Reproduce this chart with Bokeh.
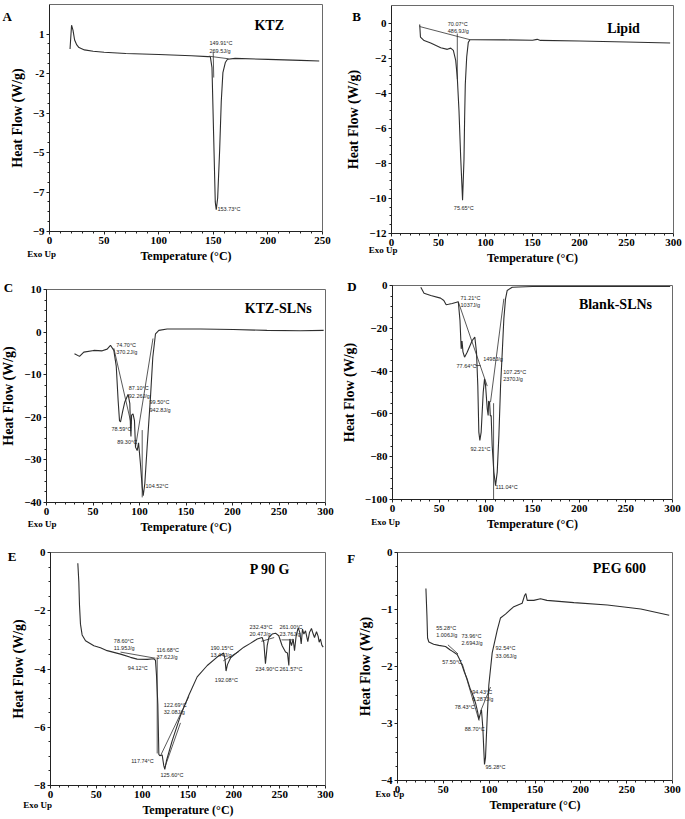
import numpy as np
from bokeh.plotting import figure
from bokeh.models import Label, FixedTicker, Range1d, LinearAxis
from bokeh.layouts import column, row
from bokeh.embed import file_html
from bokeh.resources import INLINE

# ---------------- data ----------------
# A  KTZ
ktz_t = [18.8, 20.2, 21.5, 23, 25, 27, 32, 40, 50, 70, 100, 130, 145, 147.3, 148.8, 150.3,
         151.8, 152.7, 154, 155.8, 157.3, 158.8, 161, 163, 170, 200, 230, 247]
ktz_hf = [0.25, 1.45, 1.2, 0.7, 0.45, 0.32, 0.2, 0.13, 0.08, 0.02, -0.03, -0.1, -0.14, -0.15, -0.7, -4.1,
          -7.5, -7.9, -7.3, -4.9, -2.4, -0.95, -0.44, -0.27, -0.23, -0.28, -0.33, -0.36]
ktz_seg_t = [[146, 164], [149.9, 150.4]]
ktz_seg_hf = [[-0.12, -0.25], [0.1, -1.2]]
ktz_notes = ["149.91°C\n269.5J/g", "153.73°C"]
ktz_note_t = [146.5, 153.8]
ktz_note_hf = [0.68, -7.73]

# B  Lipid
lip_t = [30, 30.8, 34.7, 41.7, 52.4, 59.4, 63, 65.8, 68.3, 70, 71.8, 73.6, 75.6, 77.1, 77.8, 78.5,
         80, 81.7, 83.5, 87.7, 120, 150, 155, 158.5, 200, 250, 296.4]
lip_hf = [-0.08, -0.8, -1.0, -1.14, -1.41, -1.5, -1.43, -1.56, -2.13, -3.1, -5.0, -7.65, -10.1, -7.8, -5.4, -3.5,
          -1.94, -1.1, -0.95, -0.95, -0.96, -0.98, -0.93, -0.99, -1.02, -1.08, -1.14]
lip_seg_t = [[30, 83.5], [70, 70]]
lip_seg_hf = [[-0.2, -0.95], [-0.6, -3.2]]
lip_notes = ["70.07°C\n486.9J/g", "75.65°C"]
lip_note_t = [59.9, 66.3]
lip_note_hf = [0.1, -10.35]

# C  KTZ-SLNs
ksl_t = [30.1, 35.5, 40.1, 50.9, 59.9, 65.2, 68.8, 72.4, 75, 77, 78.5, 79.6, 82, 84.2, 87.8, 89.6, 90.3,
         90.8, 91.5, 93, 94.6, 95.7, 97.5, 99, 101, 102.9, 104, 105.7, 108.2, 111.8, 114.3, 117.2, 120.8,
         129.7, 140.5, 165.6, 201, 237, 273, 298]
ksl_hf = [-5.07, -5.7, -4.7, -4.3, -4.4, -4.0, -3.1, -4.3, -8, -16, -20.8, -21.1, -18.5, -16.4, -14.6, -16.8,
          -22.3, -24.5, -19.5, -19.2, -20.8, -27, -27.8, -26, -30.9, -36.4, -38.4, -35.6, -27, -15.3, -5.9,
          -0.4, 0.4, 0.74, 0.74, 0.74, 0.6, 0.4, 0.3, 0.4]
ksl_seg_t = [[72.4, 91], [95.7, 114.5], [102.9, 102.9]]
ksl_seg_hf = [[-3.8, -21.5], [-27, -1.5], [-23, -38.8]]
ksl_notes = ["74.70°C\n370.2J/g", "87.10°C\n92.26J/g", "99.50°C\n942.8J/g", "78.59°C", "89.30°C", "104.52°C"]
ksl_note_t = [74.9, 88.5, 110.8, 69.9, 76, 106.5]
ksl_note_hf = [-2.37, -12.5, -15.8, -22.1, -25.05, -35.5]

# D  Blank-SLNs
bsl_t = [30.3, 33.8, 41, 51.5, 55, 57.5, 60, 64, 70.5, 72.3, 73.6, 74.5, 75.5, 77.2, 80, 85.4, 88.2, 90,
         91.4, 92.5, 93.6, 95, 97.2, 98.6, 99.7, 101.5, 102.5, 103, 104, 104.8, 105.7, 106.8, 108.6, 110.4,
         112.2, 114, 115.8, 117.6, 119.3, 121.1, 122.9, 128.3, 150, 200, 250, 297.5]
bsl_hf = [-0.8, -3.6, -4.7, -5.9, -7, -9, -8.8, -8.4, -7.6, -16.3, -29.6, -26, -31, -33.5, -31.2, -25.7, -24.1,
          -31.2, -46.7, -68.5, -72.4, -68.5, -49.9, -43.6, -46.7, -57.6, -60.7, -54, -54.5, -61, -60.7, -74.8,
          -87.2, -93.5, -87.2, -70, -46.7, -31.2, -15.6, -6.2, -2.3, -0.8, -0.5, -0.5, -0.5, -0.5]
bsl_seg_t = [[70.5, 101.5], [105, 119.3], [108.3, 108.3], [89, 94.3]]
bsl_seg_hf = [[-7.6, -47], [-54.5, -6.2], [-55, -100], [-37.4, -37.4]]
bsl_notes = ["71.21°C\n1037J/g", "77.64°C", "1498J/g", "107.25°C\n2370J/g", "92.21°C", "111.04°C"]
bsl_note_t = [72.9, 68.6, 97.2, 118.6, 83.6, 110.4]
bsl_note_hf = [-4.35, -36.3, -33, -38.9, -75.2, -92.7]

# E  P 90 G
p90_t = [29.8, 30.9, 31.6, 32.7, 34.5, 38.2, 47.3, 54.5, 61.8, 76.4, 87.3, 94.5, 105.5, 112.7, 114.5, 115.6,
         117.1, 118.2, 119.3, 121.8, 123.6, 124.7, 126.5, 132.7, 141.8, 150.9, 160, 171, 181.8, 189, 190.5,
         191.5, 193, 196.4, 200, 210.9, 218, 225.5, 230.9, 232.7, 234.5, 236.4, 238.2, 241.8, 245.5, 249,
         252.7, 256.4, 258.5, 260, 261.1, 262.9, 264.7, 266.2, 268, 270.2, 272, 273.5, 274.9, 276.4, 278.2,
         280.7, 282.5, 284.7, 286.6, 288, 290.2, 292, 293.1, 294.5, 296, 297.5]
p90_hf = [-0.37, -1.0, -1.79, -2.46, -2.83, -3.03, -3.2, -3.27, -3.37, -3.49, -3.6, -3.66, -3.67, -3.65, -3.7,
          -4.2, -5.23, -6.93, -6.98, -6.95, -7.32, -7.45, -7.15, -6.47, -5.6, -4.9, -4.27, -3.88, -3.59, -3.45,
          -3.7, -4.07, -3.85, -3.62, -3.52, -3.25, -3.12, -2.97, -2.92, -3.08, -3.82, -3.2, -2.92, -2.8, -2.77,
          -2.86, -3.2, -3.42, -3.45, -3.88, -2.97, -3.2, -2.97, -3.37, -2.86, -2.58, -2.75, -3.14, -2.63, -2.8,
          -2.69, -3.06, -2.75, -2.61, -2.8, -2.92, -2.72, -2.88, -3.08, -2.97, -3.18, -3.25]
p90_seg_t = [[76.4, 114.5], [120, 150.9], [124.7, 141.8], [116.4, 116.4], [188.5, 205.5], [230, 244], [252, 265]]
p90_seg_hf = [[-3.42, -3.63], [-6.98, -4.95], [-7.38, -5.85], [-3.6, -6.9], [-3.72, -3.4], [-3.05, -2.92],
              [-3.0, -3.0]]
p90_notes = ["78.60°C\n11.95J/g", "94.12°C", "116.68°C\n37.62J/g", "122.69°C\n32.08J/g", "117.74°C",
             "125.60°C", "190.15°C\n13.44J/g", "192.08°C", "232.43°C\n20.47J/g", "234.90°C",
             "261.00°C\n23.76J/g", "261.57°C"]
p90_note_t = [69.1, 84.4, 115.6, 123.6, 88, 120, 174.5, 179.3, 217.1, 223.6, 249.8, 249.8]
p90_note_hf = [-2.92, -3.87, -3.25, -5.12, -7.06, -7.55, -3.16, -4.29, -2.46, -3.9, -2.46, -3.9]

# F  PEG 600
peg_t = [31, 32.1, 32.8, 34.2, 39.4, 45, 52.4, 57.6, 59.6, 65.1, 68.5, 70.6, 73, 76, 79.5, 81.5, 85.1, 87.5,
         88.7, 90, 91.6, 93.1, 94.2, 94.9, 96, 97.8, 99.6, 103.3, 108.8, 112.3, 117.8, 126.9, 136, 138.5, 140,
         141.5, 148.7, 156, 163, 192.5, 229, 265.4, 296.4]
peg_hf = [-0.63, -1.1, -1.5, -1.57, -1.61, -1.63, -1.65, -1.71, -1.73, -1.79, -1.9, -1.99, -2.1, -2.22, -2.4,
          -2.47, -2.64, -2.8, -2.93, -2.85, -2.76, -3.08, -3.48, -3.72, -3.6, -2.91, -2.33, -1.76, -1.36, -1.15,
          -1.08, -0.95, -0.89, -0.76, -0.72, -0.84, -0.84, -0.81, -0.84, -0.88, -0.92, -0.99, -1.1]
peg_seg_t = [[55, 66], [70.6, 89], [90.5, 101.5]]
peg_seg_hf = [[-1.62, -1.78], [-1.95, -2.95], [-2.79, -2.36]]
peg_notes = ["55.28°C\n1.006J/g", "57.50°C", "73.96°C\n2.694J/g", "94.43°C\n6.287J/g", "78.43°C", "88.70°C",
             "92.54°C\n33.06J/g", "95.28°C"]
peg_note_t = [42.2, 48.7, 69.8, 81.5, 62.5, 73.4, 106.9, 96]
peg_note_hf = [-1.27, -1.86, -1.41, -2.4, -2.66, -3.05, -1.63, -3.71]

x_ticks_250 = [0, 50, 100, 150, 200, 250]
x_ticks_300 = [0, 50, 100, 150, 200, 250, 300]
ktz_y_ticks = [1, -1, -3, -5, -7, -9]
ktz_y_labels = {-1: "-2"}
lip_y_ticks = [0, -2, -4, -6, -8, -10, -12]
ksl_y_ticks = [10, 0, -10, -20, -30, -40]
bsl_y_ticks = [0, -20, -40, -60, -80, -100]
p90_y_ticks = [0, -2, -4, -6, -8]
peg_y_ticks = [0, -1, -2, -3, -4]

# ---------------- styling ----------------
SERIF = "Liberation Serif"
SANS = "Liberation Sans"
INK = "#222222"
BOX = "#6a6a6a"
CURVE = "#2e2e2e"


def style_axis(ax):
    ax.axis_line_color = INK
    ax.major_tick_line_color = INK
    ax.minor_tick_line_color = INK
    ax.major_tick_in = 0
    ax.major_tick_out = 3
    ax.minor_tick_in = 0
    ax.minor_tick_out = 2
    ax.major_label_standoff = 2
    ax.major_label_text_font = SERIF
    ax.major_label_text_font_style = "bold"
    ax.major_label_text_font_size = "11px"
    ax.major_label_text_color = "black"
    ax.axis_label_text_font = SERIF
    ax.axis_label_text_font_style = "bold"
    ax.axis_label_text_color = "black"


def border_axis(loc, bounds):
    ax = LinearAxis(fixed_location=loc, bounds=bounds, ticker=FixedTicker(ticks=[]))
    ax.axis_line_color = BOX
    ax.major_tick_line_color = None
    ax.minor_tick_line_color = None
    ax.major_label_text_font_size = "0px"
    return ax


def make_panel(width, height, frame, x_max, x_ticks, y_lo, y_hi, y_ticks, y_minor,
               t, hf, seg_t, seg_hf, notes, note_t, note_hf,
               name, name_t, name_hf, letter, letter_t, letter_hf, exo_t, exo_hf, overrides=None):
    # frame = plot-box margins (left, right, top, bottom) in pixels inside the figure
    L, R, T, B = frame
    kx = (width - L - R) / x_max
    ky = (height - T - B) / (y_hi - y_lo)
    xr = Range1d(-L / kx, x_max + R / kx)
    yr = Range1d(y_lo - B / ky, y_hi + T / ky)
    p = figure(width=width, height=height, output_backend="svg", toolbar_location=None,
               x_range=xr, y_range=yr, min_border=0,
               min_border_left=0, min_border_right=0, min_border_top=0, min_border_bottom=0,
               x_axis_label="Temperature (°C)", y_axis_label="Heat Flow (W/g)")
    p.xgrid.visible = False
    p.ygrid.visible = False
    p.outline_line_color = None

    xa = p.xaxis[0]
    ya = p.yaxis[0]
    xa.fixed_location = y_lo
    xa.bounds = (0, x_max)
    ya.fixed_location = 0
    ya.bounds = (y_lo, y_hi)
    xa.ticker = FixedTicker(ticks=x_ticks, minor_ticks=list(range(0, int(x_max) + 1, 10)))
    ymin = [float(v) for v in np.arange(min(y_ticks), max(y_ticks) + 1e-9, y_minor)]
    ya.ticker = FixedTicker(ticks=y_ticks, minor_ticks=ymin)
    if overrides:
        ya.major_label_overrides = overrides
    style_axis(xa)
    style_axis(ya)
    xa.axis_label_text_font_size = "12px"
    xa.axis_label_standoff = 2
    ya.axis_label_text_font_size = "14px"
    ya.axis_label_standoff = 5

    p.add_layout(border_axis(y_hi, (0, x_max)), "above")
    p.add_layout(border_axis(x_max, (y_lo, y_hi)), "right")

    p.line(t, hf, line_color=CURVE, line_width=1.1)
    p.multi_line(seg_t, seg_hf, line_color=CURVE, line_width=0.8)

    for txt, xv, yv in zip(notes, note_t, note_hf):
        p.add_layout(Label(x=xv, y=yv, text=txt, text_font=SANS, text_font_size="5.5px",
                           text_color="#1e1e1e", text_baseline="top", text_align="left"))
    p.add_layout(Label(x=name_t, y=name_hf, text=name, text_font=SERIF, text_font_style="bold",
                       text_font_size="14px", text_color="black", text_baseline="alphabetic"))
    p.add_layout(Label(x=letter_t, y=letter_hf, text=letter, text_font=SERIF, text_font_style="bold",
                       text_font_size="13px", text_color="black", text_baseline="alphabetic"))
    p.add_layout(Label(x=exo_t, y=exo_hf, text="Exo Up", text_font=SERIF, text_font_style="bold",
                       text_font_size="9px", text_color="black", text_baseline="alphabetic"))
    return p


pA = make_panel(340, 270, (49, 18, 4, 39), 250, x_ticks_250, -9, 2.5, ktz_y_ticks, 0.5,
                ktz_t, ktz_hf, ktz_seg_t, ktz_seg_hf, ktz_notes, ktz_note_t, ktz_note_hf,
                "KTZ", 187.7, 1.43, "A", -43, 1.9, -20.4, -10.13, overrides=ktz_y_labels)
pB = make_panel(344, 270, (51, 11, 5, 37), 300, x_ticks_300, -12, 1, lip_y_ticks, 0.5,
                lip_t, lip_hf, lip_seg_t, lip_seg_hf, lip_notes, lip_note_t, lip_note_hf,
                "Lipid", 229.4, -0.29, "B", -41.8, 0.38, -24.1, -12.95)
pC = make_panel(340, 275, (46, 15, 19, 43), 300, x_ticks_300, -40, 10, ksl_y_ticks, 2.5,
                ksl_t, ksl_hf, ksl_seg_t, ksl_seg_hf, ksl_notes, ksl_note_t, ksl_note_hf,
                "KTZ-SLNs", 213.2, 5.61, "C", -45.9, 10.54, -20.1, -45.0)
pD = make_panel(344, 275, (52, 12, 15, 46), 300, x_ticks_300, -100, 0, bsl_y_ticks, 5,
                bsl_t, bsl_hf, bsl_seg_t, bsl_seg_hf, bsl_notes, bsl_note_t, bsl_note_hf,
                "Blank-SLNs", 199.7, -8.73, "D", -48.6, -0.32, -22.8, -110.3)
pE = make_panel(340, 273, (50, 15, 7, 33), 300, x_ticks_300, -8, 0, p90_y_ticks, 0.5,
                p90_t, p90_hf, p90_seg_t, p90_seg_hf, p90_notes, p90_note_t, p90_note_hf,
                "P 90 G", 217.4, -0.58, "E", -46.6, -0.13, -29.8, -8.68)
pF = make_panel(344, 273, (57, 12, 7, 38), 300, x_ticks_300, -4, 0, peg_y_ticks, 0.25,
                peg_t, peg_hf, peg_seg_t, peg_seg_hf, peg_notes, peg_note_t, peg_note_hf,
                "PEG 600", 213, -0.28, "F", -54.9, -0.1, -24, -4.23)

layout = column(row(pA, pB), row(pC, pD), row(pE, pF))
open("out.html", "w").write(file_html(layout, INLINE))
